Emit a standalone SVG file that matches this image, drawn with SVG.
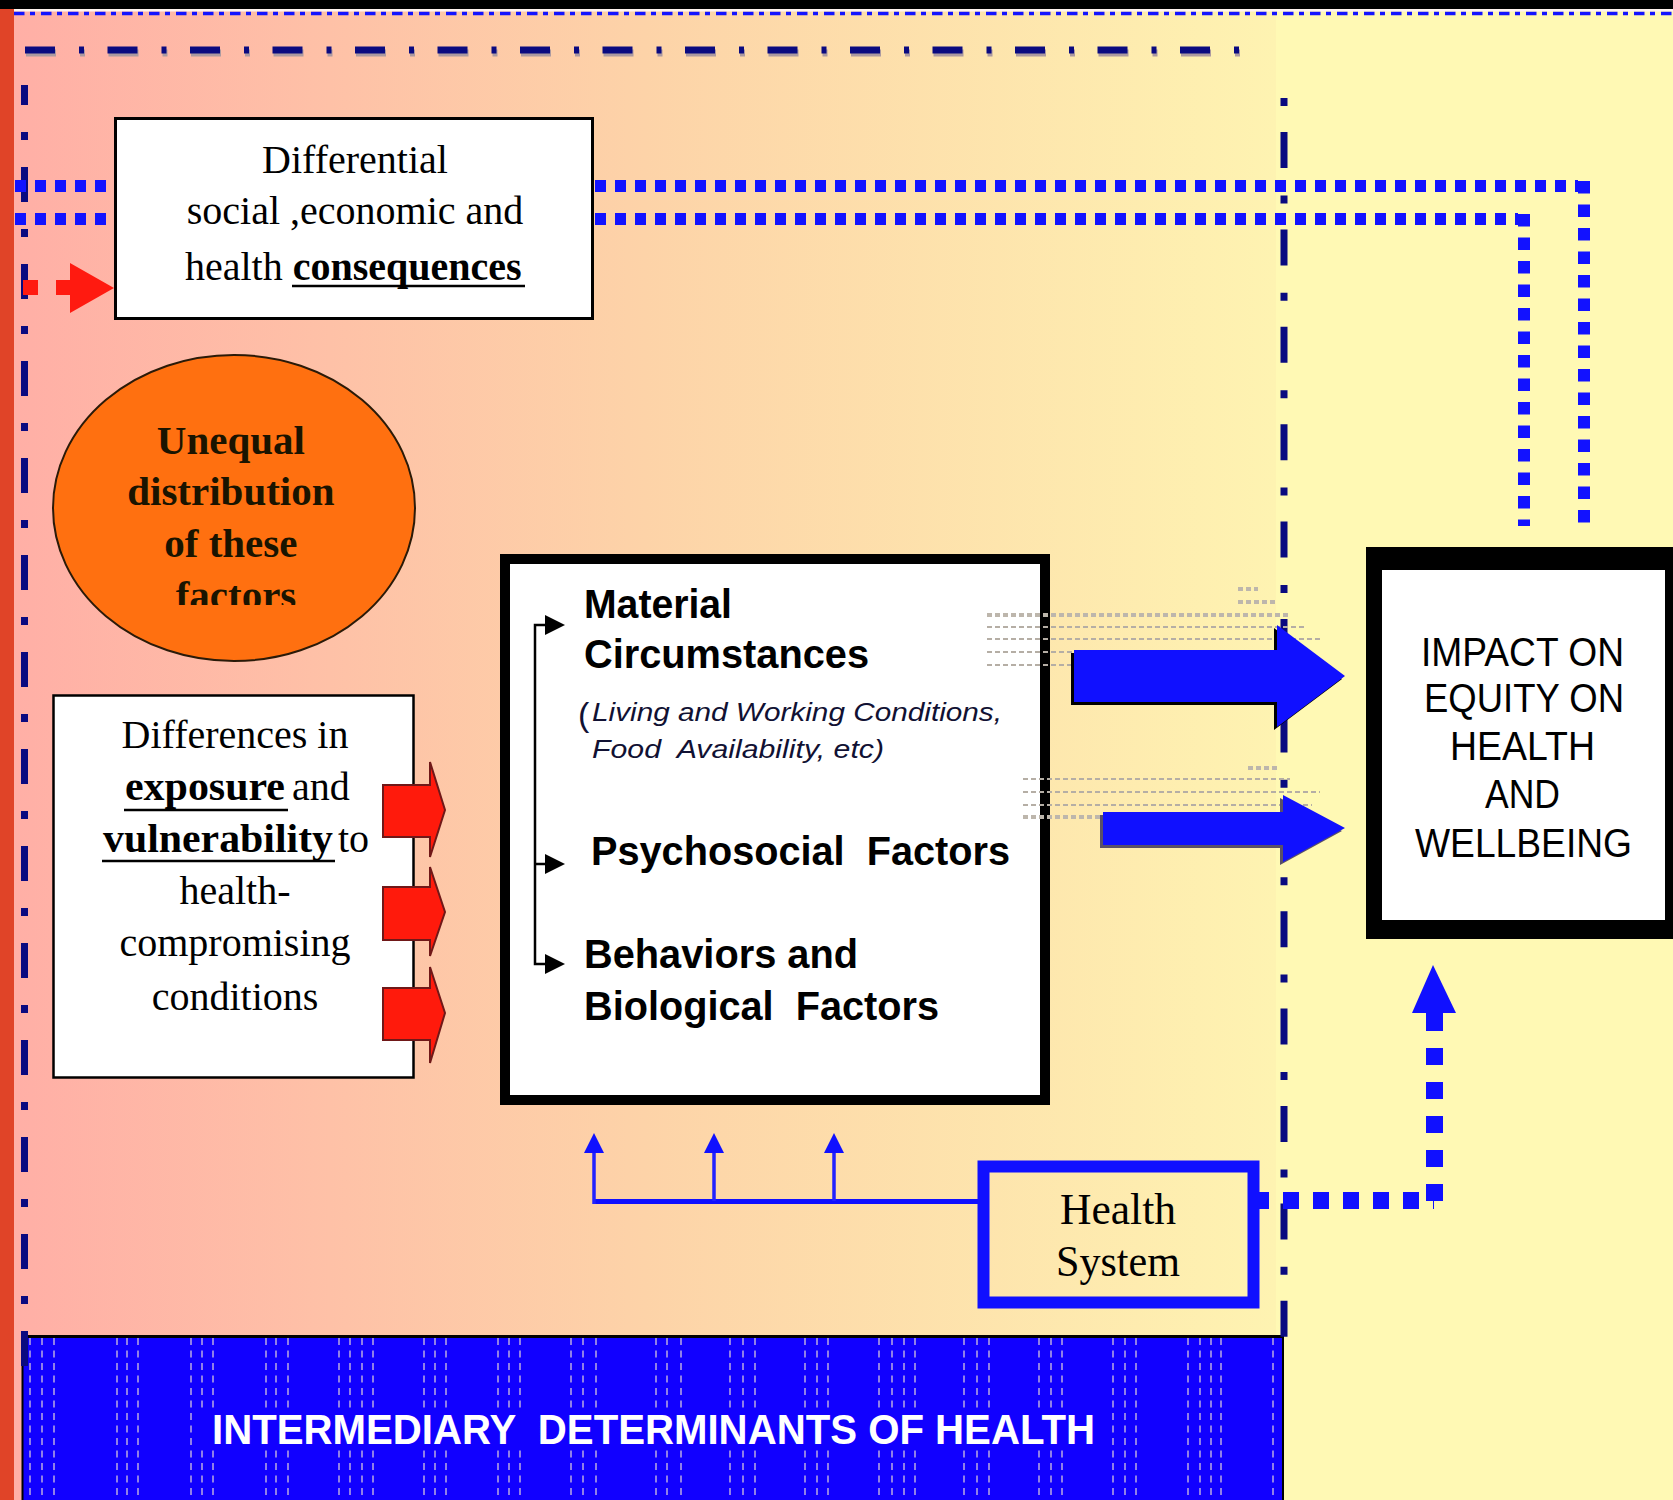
<svg xmlns="http://www.w3.org/2000/svg" width="1673" height="1500" viewBox="0 0 1673 1500">
<defs>
<linearGradient id="bg" x1="14" y1="0" x2="1276" y2="0" gradientUnits="userSpaceOnUse">
<stop offset="0" stop-color="#FFAFA6"/>
<stop offset="0.5" stop-color="#FDD3A8"/>
<stop offset="1" stop-color="#FEF3B1"/>
</linearGradient>
<clipPath id="ellclip"><rect x="40" y="340" width="400" height="265"/></clipPath>
</defs>
<style>
.serif{font-family:"Liberation Serif","Times New Roman",serif;}
.sans{font-family:"Liberation Sans",Arial,sans-serif;}
.pre{white-space:pre;}
.navy{fill:none;stroke:#0A0A80;stroke-width:7;}
.navysh{fill:none;stroke:#AC9AA0;stroke-width:7;}
.bdoth{fill:none;stroke:#1212FF;stroke-width:12;stroke-dasharray:11 9;}
.bdotv{fill:none;stroke:#1212FF;stroke-width:12;stroke-dasharray:12.5 11;}
.pat{fill:none;stroke:#9080E8;stroke-width:2;stroke-dasharray:7 5.5;}
.gd{fill:none;stroke:#B5AEA5;stroke-width:2;stroke-dasharray:5 3;}
.gdt{fill:none;stroke:#BDB6AC;stroke-width:4;stroke-dasharray:5 3;}
.red{fill:#FF1A0C;stroke:#701818;stroke-width:2;}
.tb{font-weight:bold;}
</style>

<g id="background">
<rect x="0" y="0" width="1673" height="1500" fill="#FFF9B4"/>
<rect x="14" y="11" width="1262" height="1489" fill="url(#bg)"/>
<rect x="0" y="0" width="1673" height="9" fill="#000"/>
<rect x="14" y="9" width="1659" height="2.5" fill="#FFF4F0"/>
<rect x="0" y="9" width="14" height="1491" fill="#E04428"/>
<line x1="14" y1="13.5" x2="1673" y2="13.5" stroke="#1414FF" stroke-width="3.5" stroke-dasharray="10.5 5.5 5 6"/>
</g>

<g id="intermediary-band">
<rect x="22" y="1335" width="1261" height="165" fill="#1100FF"/>
<path class="pat" d="M30,1338V1500M42,1338V1500M54,1338V1500M117,1338V1500M127,1338V1500M138,1338V1500M191,1338V1500M202,1338V1500M213,1338V1500M266,1338V1500M276,1338V1500M288,1338V1500M339,1338V1500M350,1338V1500M362,1338V1500M373,1338V1500M424,1338V1500M435,1338V1500M446,1338V1500M498,1338V1500M509,1338V1500M520,1338V1500M571,1338V1500M583,1338V1500M596,1338V1500M656,1338V1500M667,1338V1500M681,1338V1500M730,1338V1500M743,1338V1500M755,1338V1500M805,1338V1500M817,1338V1500M828,1338V1500M879,1338V1500M892,1338V1500M904,1338V1500M915,1338V1500M964,1338V1500M977,1338V1500M989,1338V1500M1039,1338V1500M1051,1338V1500M1062,1338V1500M1113,1338V1500M1125,1338V1500M1136,1338V1500M1188,1338V1500M1200,1338V1500M1211,1338V1500M1221,1338V1500M1273,1338V1500"/>
<rect x="200" y="1410" width="902" height="38" fill="#1100FF"/>
<line x1="21" y1="1336.5" x2="1284" y2="1336.5" stroke="#000" stroke-width="3"/>
<line x1="22.5" y1="1335" x2="22.5" y2="1500" stroke="#000" stroke-width="2"/>
<line x1="1283" y1="1335" x2="1283" y2="1500" stroke="#000" stroke-width="2"/>
<text class="sans tb pre" x="212" y="1444" font-size="43" fill="#FFFFFF" textLength="883" lengthAdjust="spacingAndGlyphs">INTERMEDIARY  DETERMINANTS OF HEALTH</text>
</g>

<g id="boundary-lines">
<line class="navysh" x1="26" y1="53" x2="1241" y2="53" stroke-dasharray="30 24 5 23.5"/>
<line class="navy" x1="25" y1="50" x2="1240" y2="50" stroke-dasharray="30 24 5 23.5"/>
<line class="navy" x1="24.5" y1="85" x2="24.5" y2="1372" stroke-dasharray="35 27 8 27" stroke-dashoffset="15"/>
<line class="navy" x1="1284" y1="98" x2="1284" y2="1337" stroke-dasharray="8 26 36 27.4"/>
</g>

<g id="connectors">
<path class="bdoth" d="M15,186H1578"/>
<path class="bdotv" d="M1584,181V524"/>
<path class="bdoth" d="M15,219H1518"/>
<path class="bdotv" d="M1524,214V526"/>
<g id="red-arrow-consequences" fill="#FF1A10">
<rect x="23" y="280" width="15" height="15"/>
<path d="M56,280H70V263L114,288L70,313V295H56Z"/>
</g>
<g id="health-system-links">
<path d="M594,1201.5H978" stroke="#1010FF" stroke-width="5" fill="none"/>
<path d="M594,1204V1150M714,1201V1150M834,1201V1150" stroke="#2222FF" stroke-width="3.5" fill="none"/>
<polygon points="584,1153 594,1133 604,1153" fill="#1010FF"/>
<polygon points="704,1153 714,1133 724,1153" fill="#1010FF"/>
<polygon points="824,1153 834,1133 844,1153" fill="#1010FF"/>
<path d="M1253,1200.5H1434" fill="none" stroke="#1010FF" stroke-width="17" stroke-dasharray="16 14"/>
<path d="M1434.5,1201V1031" fill="none" stroke="#1010FF" stroke-width="17" stroke-dasharray="17 17"/>
<rect x="1426" y="1011" width="17" height="20" fill="#1010FF"/>
<polygon points="1412,1013 1433,965 1456,1013" fill="#1010FF"/>
</g>
</g>

<g id="node-differential">
<rect x="115.5" y="118.5" width="477" height="200" fill="#FFFFFF" stroke="#000" stroke-width="3"/>
<text class="serif" x="355" y="173" font-size="40" text-anchor="middle" fill="#000">Differential</text>
<text class="serif" x="355" y="224" font-size="40" text-anchor="middle" fill="#000">social ,economic and</text>
<text class="serif" x="185" y="280" font-size="40" fill="#000">health <tspan class="tb">consequences</tspan></text>
<line x1="292" y1="286" x2="525" y2="286" stroke="#000" stroke-width="2.5"/>
</g>

<g id="node-unequal">
<ellipse cx="234" cy="508" rx="181" ry="153" fill="#FF7010" stroke="#2A1A08" stroke-width="2"/>
<g clip-path="url(#ellclip)">
<text class="serif tb" font-size="41" text-anchor="middle" fill="#1A1400">
<tspan x="236" y="454">Unequal</tspan>
<tspan x="236" y="505">distribution</tspan>
<tspan x="236" y="557">of these</tspan>
<tspan x="236" y="609">factors</tspan>
</text>
</g>
</g>

<g id="node-differences">
<rect x="53.5" y="695.5" width="360" height="382" fill="#FFFFFF" stroke="#000" stroke-width="2.5"/>
<text class="serif" x="235" y="748" font-size="40" text-anchor="middle" fill="#000">Differences in</text>
<text class="serif tb" x="125" y="800" font-size="40" fill="#000" textLength="160" lengthAdjust="spacingAndGlyphs">exposure</text>
<text class="serif" x="292" y="800" font-size="40" fill="#000">and</text>
<line x1="124" y1="810" x2="288" y2="810" stroke="#000" stroke-width="2.5"/>
<text class="serif tb" x="103" y="852" font-size="40" fill="#000" textLength="230" lengthAdjust="spacingAndGlyphs">vulnerability</text>
<text class="serif" x="338" y="852" font-size="40" fill="#000">to</text>
<line x1="102" y1="861" x2="335" y2="861" stroke="#000" stroke-width="2.5"/>
<text class="serif" x="235" y="904" font-size="40" text-anchor="middle" fill="#000">health-</text>
<text class="serif" x="235" y="956" font-size="40" text-anchor="middle" fill="#000">compromising</text>
<text class="serif" x="235" y="1010" font-size="40" text-anchor="middle" fill="#000">conditions</text>
</g>

<g id="red-arrows">
<path class="red" d="M383,785H430V762L445,810L430,857V837H383Z"/>
<path class="red" d="M383,887H430V867L445,912L430,956V940H383Z"/>
<path class="red" d="M383,988H430V967L445,1013L430,1063V1040H383Z"/>
</g>

<g id="node-intermediary-factors">
<rect x="505" y="559" width="540" height="541" fill="#FFFFFF" stroke="#000" stroke-width="10"/>
<path d="M548,625H535V964H548M535,864H548" fill="none" stroke="#000" stroke-width="2.5"/>
<polygon points="545,615 565,625 545,635" fill="#000"/>
<polygon points="545,854 565,864 545,874" fill="#000"/>
<polygon points="545,954 565,964 545,974" fill="#000"/>
<text class="sans tb" x="584" y="618" font-size="40" fill="#000" textLength="148" lengthAdjust="spacingAndGlyphs">Material</text>
<text class="sans tb" x="584" y="668" font-size="40" fill="#000" textLength="285" lengthAdjust="spacingAndGlyphs">Circumstances</text>
<text class="sans" x="578" y="726" font-size="34" fill="#111133">(</text>
<text class="sans" x="592" y="721" font-size="25" font-style="italic" fill="#111133" textLength="410" lengthAdjust="spacingAndGlyphs">Living and Working Conditions,</text>
<text class="sans pre" x="592" y="758" font-size="25" font-style="italic" fill="#111133" textLength="292" lengthAdjust="spacingAndGlyphs">Food  Availability, etc)</text>
<text class="sans tb pre" x="591" y="865" font-size="40" fill="#000" textLength="419" lengthAdjust="spacingAndGlyphs">Psychosocial  Factors</text>
<text class="sans tb" x="584" y="968" font-size="40" fill="#000" textLength="274" lengthAdjust="spacingAndGlyphs">Behaviors and</text>
<text class="sans tb pre" x="584" y="1020" font-size="40" fill="#000" textLength="355" lengthAdjust="spacingAndGlyphs">Biological  Factors</text>
</g>

<g id="texture">
<path class="gdt" d="M987,615H1290M1238,589H1258M1238,602H1275"/>
<path class="gd" d="M987,627H1305M987,639H1323M987,652H1073M987,665H1073"/>
<path class="gd" d="M1023,779H1290M1023,792H1320M1023,805H1312"/>
<path class="gdt" d="M1023,817H1103M1248,768H1277"/>
</g>

<g id="blue-arrows">
<path d="M1071,653H1274V628L1342,679L1274,730V705H1071Z" fill="#000"/>
<path d="M1074,650H1277V625L1345,676L1277,727V702H1074Z" fill="#1010FF"/>
<path d="M1100,815H1280V798L1342,831L1280,865V848H1100Z" fill="#5A5068"/>
<path d="M1103,812H1283V795L1345,828L1283,862V845H1103Z" fill="#1010FF"/>
</g>

<g id="node-impact">
<rect x="1366" y="547" width="320" height="392" fill="#000"/>
<rect x="1382" y="570" width="283" height="350" fill="#FFFFFF"/>
<text class="sans" x="1421" y="666" font-size="41" fill="#000" textLength="203" lengthAdjust="spacingAndGlyphs">IMPACT ON</text>
<text class="sans" x="1424" y="712" font-size="41" fill="#000" textLength="200" lengthAdjust="spacingAndGlyphs">EQUITY ON</text>
<text class="sans" x="1450" y="760" font-size="41" fill="#000" textLength="145" lengthAdjust="spacingAndGlyphs">HEALTH</text>
<text class="sans" x="1485" y="808" font-size="41" fill="#000" textLength="75" lengthAdjust="spacingAndGlyphs">AND</text>
<text class="sans" x="1415" y="857" font-size="41" fill="#000" textLength="217" lengthAdjust="spacingAndGlyphs">WELLBEING</text>
</g>

<g id="node-health-system">
<rect x="983.5" y="1166.5" width="270" height="136" fill="none" stroke="#1010FF" stroke-width="12"/>
<text class="serif" x="1060" y="1224" font-size="44" fill="#000" textLength="116" lengthAdjust="spacingAndGlyphs">Health</text>
<text class="serif" x="1056" y="1276" font-size="44" fill="#000" textLength="124" lengthAdjust="spacingAndGlyphs">System</text>
</g>
</svg>
